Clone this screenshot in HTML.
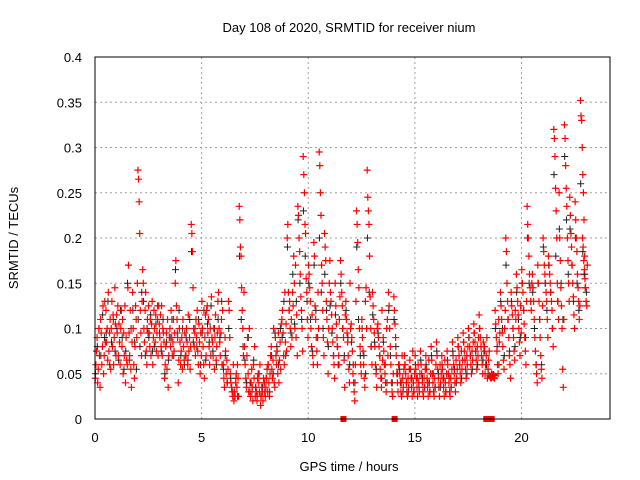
<!DOCTYPE html>
<html><head><meta charset="utf-8"><style>
body{margin:0;background:#fff}
svg{display:block;font-family:"Liberation Sans",sans-serif}
</style></head><body>
<svg id="chart" width="640" height="480">
<text x="349" y="32" text-anchor="middle" font-size="13">Day 108 of 2020, SRMTID for receiver nium</text>
<text x="349" y="471" text-anchor="middle" font-size="13">GPS time / hours</text>
<text transform="translate(18,238) rotate(-90)" text-anchor="middle" font-size="13">SRMTID / TECUs</text>
<g id="grid"></g><g id="ticks"></g><g id="black"></g><g id="red"></g>
<rect x="95" y="57" width="515" height="362" fill="none" stroke="#000"/>
</svg>
<script>
const binStarts=[0,0.25,0.5,0.75,1,1.25,1.5,1.75,2,2.25,2.5,2.75,3,3.25,3.5,3.75,4,4.25,4.5,4.75,5,5.25,5.5,5.75,6,6.25,6.5,6.75,7,7.25,7.5,7.75,8,8.25,8.5,8.75,9,9.25,9.5,9.75,10,10.25,10.5,10.75,11,11.25,11.5,11.75,12,12.25,12.5,12.75,13,13.25,13.5,13.75,14,14.25,14.5,14.75,15,15.25,15.5,15.75,16,16.25,16.5,16.75,17,17.25,17.5,17.75,18,18.25,18.5,18.75,19,19.25,19.5,19.75,20,20.25,20.5,20.75,21,21.25,21.5,21.75,22,22.25,22.5,22.75,22.85];
const redVals=[
[45,60,75,90,40,55,100,70,35],[110,95,60,80,125,50,70,130,85],[120,85,100,65,140,75,95,110,55],[100,130,80,115,60,90,145,105,70],
[115,95,125,70,105,85,60,100,120],[80,110,50,95,70,125,40,90,65],[60,145,170,95,70,120,55,35,85],[140,100,60,45,80,125,110,90,150],
[275,265,240,205,120,95,70,130,165],[150,100,85,120,140,75,60,110,95],[125,95,80,110,70,105,130,60,90],[120,100,85,115,75,95,110,70,125],
[105,90,115,80,125,70,100,95,85],[45,60,80,95,55,110,35,70,90],[100,80,120,90,70,85,110,75,95],[150,175,125,110,90,40,65,100,85],
[60,75,90,55,110,80,65,95,70],[70,100,85,60,115,75,90,55,80],[215,205,185,145,100,80,95,70,110],[90,120,75,60,105,85,50,95,70],
[130,100,80,60,45,90,115,70,120],[125,95,110,80,60,100,70,135,90],[85,70,100,55,90,115,65,80,95],[130,140,100,85,70,95,110,60,120],
[60,45,35,90,75,50,65,40,55],[130,120,90,50,40,35,30,25,60],[20,30,25,40,50,35,60,45,25],[235,220,190,180,145,120,100,70,140],
[80,60,45,35,70,90,50,30,100],[30,25,40,55,35,20,60,45,80],[25,35,30,20,45,50,40,30,60],[15,25,35,30,20,45,40,30,25],
[35,45,55,30,60,40,25,50,70],[80,55,45,65,100,40,35,90,70],[60,75,50,95,40,65,85,55,105],[110,120,95,70,60,140,85,105,75],
[200,215,140,120,130,100,80,110,90],[140,125,180,150,100,170,90,115,70],[235,225,200,185,160,135,120,100,75],[290,270,250,215,205,155,140,110,90],
[170,160,145,130,100,80,115,70,60],[195,180,125,110,90,75,60,140,100],[295,280,250,225,170,150,120,90,70],[205,190,175,130,110,85,50,100,150],
[175,140,130,115,100,85,70,60,45],[150,125,105,90,80,60,70,110,135],[175,160,140,125,100,90,65,35,115],[130,110,95,85,70,55,40,150,100],
[105,90,75,50,40,30,20,60,130],[230,215,195,165,145,100,80,60,50],[110,90,75,60,45,35,130,145,100],[275,245,230,215,180,135,100,80,60],
[140,125,110,95,80,60,50,35,100],[105,90,80,70,55,45,35,120,65],[90,75,60,50,40,30,100,110,70],[140,125,100,80,60,40,30,25,50],
[135,120,105,90,70,50,40,30,60],[60,50,40,30,25,70,45,35,55],[70,60,50,40,30,25,45,35,55],[65,55,45,35,25,75,40,30,50],
[70,55,45,35,25,60,40,30,50],[75,60,50,40,30,25,45,35,55],[70,55,45,35,25,65,40,30,50],[80,65,50,40,30,25,45,35,60],
[85,70,55,45,35,25,60,40,50],[70,55,45,35,25,65,40,30,50],[75,60,50,40,30,25,45,35,55],[85,70,60,50,40,30,65,45,55],
[90,80,70,60,50,40,75,55,65],[95,85,75,65,55,45,70,60,80],[100,90,80,70,60,50,75,65,85],[105,95,85,75,65,55,80,70,90],
[115,100,90,80,70,60,50,85,75],[80,50,60,70,90,45,55,65,75],[48,46,45,50,47,49,46,48,45],[120,105,90,75,60,50,110,85,95],
[140,125,110,95,80,65,55,100,120],[200,185,150,130,110,90,70,60,45],[140,125,115,100,90,75,65,120,110],[160,145,130,115,100,85,70,125,95],
[165,150,140,120,105,90,75,60,130],[235,215,200,180,160,145,130,120,150],[160,145,130,110,90,75,60,50,40],[170,150,130,110,90,70,55,45,125],
[200,185,170,160,150,140,130,110,90],[180,170,160,150,140,130,120,100,80],[320,310,290,255,230,200,150,130,110],[250,200,175,145,125,100,55,35,110],
[325,310,280,255,235,200,175,150,130],[245,225,205,190,170,150,135,115,100],[240,220,200,185,160,145,130,110,125],[352,335,330,300,270,250,220,180,145],
[200,190,175,165,155,145,130,125,170]];
const blackVals=[
[50,80,100],[70,115,90],[95,130,60],[85,110,75],[100,65,120],[90,55,75],[150,65,100],[120,85,55],[110,80,140],[130,70,100],[90,115,75],[80,105,125],
[95,75,110],[50,85,65],[90,110,70],[165,95,120],[70,100,60],[90,65,110],[185,85,100],[80,110,60],[95,120,65],[105,85,125],[75,100,60],[110,90,130],
[55,70,40],[100,45,30],[30,45,25],[180,110,80],[65,40,90],[40,30,65],[35,25,50],[25,35,40],[45,60,30],[70,50,95],[80,60,100],[90,130,70],
[190,120,95],[160,105,130],[220,150,110],[230,180,130],[150,110,75],[170,120,90],[200,140,100],[160,120,80],[125,95,70],[115,80,60],[150,100,70],[120,90,60],
[85,60,40],[190,110,70],[100,70,50],[200,140,80],[115,85,55],[95,70,45],[85,60,40],[120,70,40],[110,80,50],[55,40,30],[60,40,30],[55,45,30],
[60,45,35],[65,45,35],[60,40,30],[70,50,35],[75,50,35],[60,45,30],[65,45,35],[75,55,40],[80,60,45],[85,65,50],[90,70,55],[95,75,60],
[100,80,65],[75,60,50],[47,46,49],[100,80,60],[130,100,70],[170,110,75],[130,100,80],[140,110,90],[150,120,90],[200,150,130],[140,100,60],[150,110,60],
[190,150,120],[170,140,100],[270,180,130],[210,150,110],[290,220,160],[210,170,130],[200,150,120],[260,200,160],[185,160,140]];
const zeroTimes=[11.65,14.05,18.35,18.4,18.45,18.5,18.55,18.6];
const xTicks=[0,5,10,15,20];
const yTicks=[0,0.05,0.1,0.15,0.2,0.25,0.3,0.35,0.4];
const yTickLabels=["0","0.05","0.1","0.15","0.2","0.25","0.3","0.35","0.4"];

const X0=95,X1=610,Y0=419,Y1=57,XMAX=24.15,YMAX=0.4;
const sx=t=>X0+t/XMAX*(X1-X0);
const sy=v=>Y0-v/YMAX*(Y0-Y1);
const NS="http://www.w3.org/2000/svg";
function mk(tag,attrs,parent){const e=document.createElementNS(NS,tag);for(const k in attrs)e.setAttribute(k,attrs[k]);parent.appendChild(e);return e;}
const grid=document.getElementById('grid'),ticks=document.getElementById('ticks');
xTicks.forEach(t=>{
  const x=sx(t);
  if(t>0){const g=mk('line',{x1:x,x2:x,y1:Y0,y2:Y1,stroke:'#a0a0a0','stroke-dasharray':'2,3','stroke-width':1},grid);
  
  }
  const l=mk('text',{x:x,y:442,'text-anchor':'middle','font-size':13},ticks);
  l.textContent=t;
  
  
});
yTicks.forEach((v,i)=>{
  const y=sy(v);
  if(v>0&&v<0.4){const g=mk('line',{x1:X0,x2:X1,y1:y,y2:y,stroke:'#a0a0a0','stroke-dasharray':'2,3','stroke-width':1},grid);
  
  }
  const l=mk('text',{x:82,y:y+5,'text-anchor':'end','font-size':13},ticks);
  l.textContent=yTickLabels[i];
  
  
});
function plus(t,v,color,parent,name,w){
  const x=sx(t),y=sy(v);
  const p=mk('path',{d:`M${x-3.5},${y}h7M${x},${y-3.5}v7`,stroke:color,'stroke-width':w,fill:'none'},parent);
  
  
}
const bg=document.getElementById('black'),rg=document.getElementById('red');
blackVals.forEach((arr,b)=>arr.forEach((v,i)=>plus(binStarts[b]+(i+0.3)/arr.length*0.25,v/1000,'#202020',bg,'black-point',1)));
redVals.forEach((arr,b)=>arr.forEach((v,i)=>plus(binStarts[b]+(i+0.5)/arr.length*0.25,v/1000,'#ff0000',rg,'red-point',1.2)));
zeroTimes.forEach(t=>{
  const r=mk('rect',{x:sx(t)-3,y:sy(0)-3,width:6,height:6,fill:'#ff0000'},rg);
  
  
});
</script>
</body></html>
